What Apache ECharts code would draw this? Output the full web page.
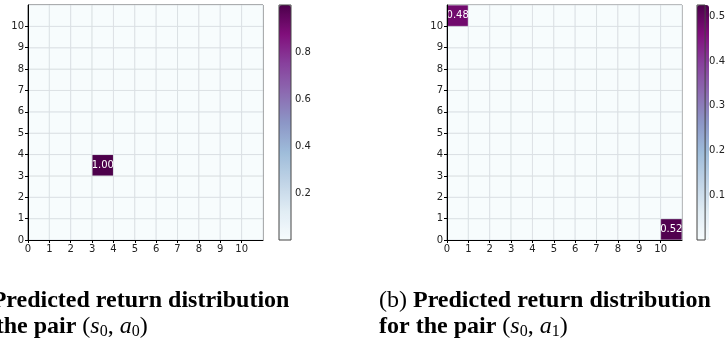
<!DOCTYPE html>
<html><head><meta charset="utf-8">
<script src="https://cdn.jsdelivr.net/npm/echarts@6/dist/echarts.min.js"></script>
<style>html,body{margin:0;padding:0;background:#fff}#c{width:728px;height:343px}</style>
</head><body><div id="c"></div>
<script>
// tick labels for both axes of each heatmap (cell boundaries)
const tickLabels = ['0','1','2','3','4','5','6','7','8','9','10'];
// matrix rows indexed by y (0 at bottom), columns by x
const matrixA = [
 [0,0,0,0,0,0,0,0,0,0,0],
 [0,0,0,0,0,0,0,0,0,0,0],
 [0,0,0,0,0,0,0,0,0,0,0],
 [0,0,0,1.00,0,0,0,0,0,0,0],
 [0,0,0,0,0,0,0,0,0,0,0],
 [0,0,0,0,0,0,0,0,0,0,0],
 [0,0,0,0,0,0,0,0,0,0,0],
 [0,0,0,0,0,0,0,0,0,0,0],
 [0,0,0,0,0,0,0,0,0,0,0],
 [0,0,0,0,0,0,0,0,0,0,0],
 [0,0,0,0,0,0,0,0,0,0,0]
];
const matrixB = [
 [0,0,0,0,0,0,0,0,0,0,0.52],
 [0,0,0,0,0,0,0,0,0,0,0],
 [0,0,0,0,0,0,0,0,0,0,0],
 [0,0,0,0,0,0,0,0,0,0,0],
 [0,0,0,0,0,0,0,0,0,0,0],
 [0,0,0,0,0,0,0,0,0,0,0],
 [0,0,0,0,0,0,0,0,0,0,0],
 [0,0,0,0,0,0,0,0,0,0,0],
 [0,0,0,0,0,0,0,0,0,0,0],
 [0,0,0,0,0,0,0,0,0,0,0],
 [0.48,0,0,0,0,0,0,0,0,0,0]
];
const colorbarMaxA = 1.0;
const colorbarMaxB = 0.525;
const buPu = ['#f7fcfd','#e0ecf4','#bfd3e6','#9ebcda','#8c96c6','#8c6bb1','#88419d','#810f7c','#4d004b'];

function toCells(m){const out=[];m.forEach((row,y)=>row.forEach((v,x)=>out.push([x,y,v])));return out;}

const chart = echarts.init(document.getElementById('c'), null, {renderer:'canvas'});
const lblFont = {fontFamily:'DejaVu Sans', fontSize:10, color:'#222'};

function heatAxis(gi, isX){
  return {
    type:'value', gridIndex:gi, min:0, max:11, interval:1,
    position: isX?'bottom':'left',
    axisLine:{show:true, lineStyle:{color:'#000', width:1}},
    axisTick:{show:true, length:3, lineStyle:{color:'#000'}},
    axisLabel:Object.assign({margin: isX?4:4, showMaxLabel:false, formatter:v=>tickLabels[v]!==undefined?tickLabels[v]:''}, lblFont),
    splitLine:{show:false}, z:5
  };
}
function cbAxis(gi, max, interval){
  return {
    type:'value', gridIndex:gi, min:0, max:max, interval:interval, position:'right',
    axisLine:{show:false}, axisTick:{show:true, length:4, lineStyle:{color:'#222'}},
    axisLabel:Object.assign({margin:4, showMinLabel:false, showMaxLabel:false, formatter:v=>v.toFixed(1)}, lblFont),
    splitLine:{show:false}
  };
}
function cbX(gi){return {type:'value', gridIndex:gi, show:false, min:0, max:1};}

function renderCell(params, api){
  const x=api.value(0), y=api.value(1), v=api.value(2);
  const p0=api.coord([x,y+1]), p1=api.coord([x+1,y]);
  const children=[{type:'rect', shape:{x:p0[0],y:p0[1],width:p1[0]-p0[0],height:p1[1]-p0[1]},
    style:{fill:api.visual('color'), stroke:'rgba(215,220,224,0.75)', lineWidth:1}}];
  if(v>0.01){
    children.push({type:'text', style:{text:v.toFixed(2), x:(p0[0]+p1[0])/2, y:(p0[1]+p1[1])/2,
      align:'center', verticalAlign:'middle', fill:'#fff', font:'10px "DejaVu Sans"'}, z2:10});
  }
  return {type:'group', children};
}

const gridA={left:28, top:5, width:235, height:235, show:true, borderColor:'#222', borderWidth:1, backgroundColor:'transparent'};
const gridB={left:447, top:5, width:235, height:235, show:true, borderColor:'#555', borderWidth:1, backgroundColor:'transparent'};
const gridCA={left:279, top:5, width:12, height:235, show:true, borderColor:'#444', borderWidth:1, z:6};
const gridCB={left:697, top:5, width:12, height:235, show:true, borderColor:'#444', borderWidth:1, z:6};

const capRich = {
  n:{fontFamily:'Liberation Serif', fontSize:24, color:'#000'},
  b:{fontFamily:'Liberation Serif', fontSize:24, fontWeight:'bold', color:'#000'},
  i:{fontFamily:'Liberation Serif', fontSize:24, fontStyle:'italic', color:'#000'},
  s:{fontFamily:'Liberation Serif', fontSize:16, color:'#000', padding:[9,0,0,0]}
};
function caption(x, letter, sub){
  return {type:'text', left:x, top:288, z:100, style:{
    text:'{n|('+letter+') }{b|Predicted return distribution}\n{b|for the pair }{n|(}{i|s}{s|0}{n|, }{i|a}{s|'+sub+'}{n|)}',
    rich:capRich, lineHeight:26, fill:'#000'}};
}

chart.setOption({
  animation:false,
  backgroundColor:'#fff',
  grid:[gridA, gridB, gridCA, gridCB],
  xAxis:[heatAxis(0,true), heatAxis(1,true), cbX(2), cbX(3)],
  yAxis:[heatAxis(0,false), heatAxis(1,false), cbAxis(2,colorbarMaxA,0.2), cbAxis(3,colorbarMaxB,0.1)],
  visualMap:[
    {type:'continuous', seriesIndex:0, min:0, max:colorbarMaxA, inRange:{color:buPu}, calculable:false,
     left:279, top:5, itemWidth:12, itemHeight:235, padding:0, text:null, showLabel:false, orient:'vertical'},
    {type:'continuous', seriesIndex:1, min:0, max:colorbarMaxB, inRange:{color:buPu}, calculable:false,
     left:697, top:5, itemWidth:12, itemHeight:235, padding:0, text:null, showLabel:false, orient:'vertical'}
  ],
  series:[
    {type:'custom', xAxisIndex:0, yAxisIndex:0, renderItem:renderCell, data:toCells(matrixA), encode:{x:0,y:1}},
    {type:'custom', xAxisIndex:1, yAxisIndex:1, renderItem:renderCell, data:toCells(matrixB), encode:{x:0,y:1}}
  ],
  graphic:[caption(-41,'a','0'), caption(379,'b','1')]
});
</script></body></html>
